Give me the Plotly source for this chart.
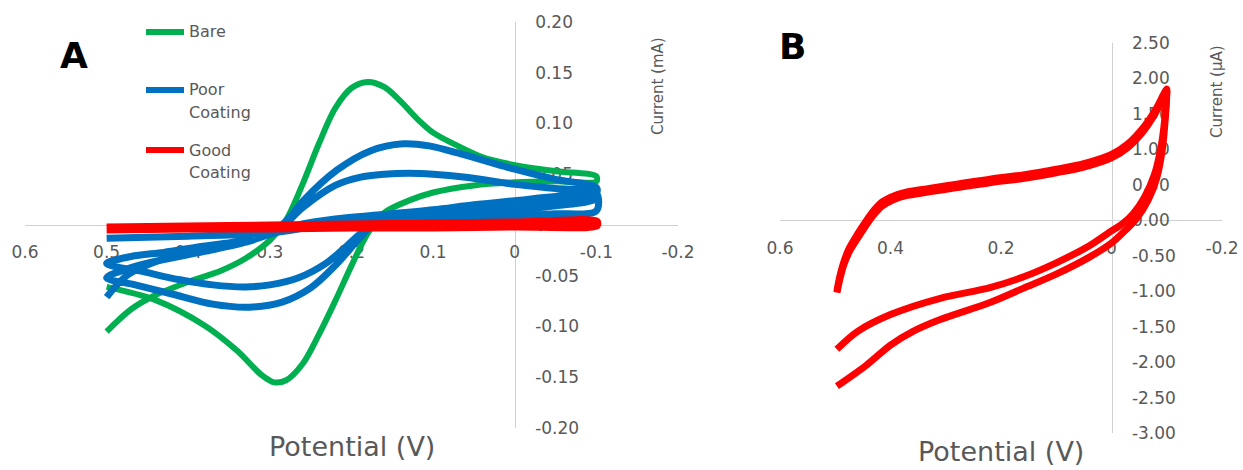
import plotly.graph_objects as go

W, H = 1243, 470

# ---------------- Panel A: cyclic voltammograms (V, mA) ----------------
bare_v = [0.5, 0.47, 0.44, 0.40, 0.36, 0.33, 0.30, 0.28, 0.26, 0.24, 0.22, 0.20,
          0.18, 0.16, 0.14, 0.12, 0.10, 0.07, 0.04, 0.0, -0.05, -0.1,
          -0.1, -0.05, 0.0, 0.05, 0.10, 0.13, 0.16, 0.18, 0.20, 0.22, 0.24,
          0.26, 0.28, 0.295, 0.31, 0.34, 0.38, 0.44, 0.5]
bare_i = [-0.105, -0.083, -0.069, -0.056, -0.045, -0.033, -0.015, 0.005, 0.040, 0.080, 0.115, 0.135,
          0.141, 0.136, 0.122, 0.105, 0.091, 0.078, 0.067, 0.059, 0.053, 0.048,
          0.043, 0.043, 0.042, 0.039, 0.032, 0.024, 0.012, -0.008, -0.040, -0.075, -0.108,
          -0.137, -0.153, -0.155, -0.148, -0.124, -0.099, -0.074, -0.061]

poor_v = [0.5, 0.474, 0.432, 0.392, 0.34, 0.3, 0.28, 0.259, 0.218, 0.177, 0.137, 0.105,
          0.07, 0.035, 0.0, -0.05, -0.1,
          -0.1, -0.05, 0.0, 0.05, 0.1, 0.14, 0.17, 0.19, 0.22, 0.25, 0.285, 0.325, 0.37,
          0.42, 0.465, 0.5,
          0.47, 0.43, 0.38, 0.33, 0.29, 0.26, 0.22, 0.19, 0.16, 0.13, 0.10, 0.06,
          0.0, -0.05, -0.1,
          -0.1, -0.05, 0.0, 0.05, 0.1, 0.15, 0.18, 0.205, 0.23, 0.265, 0.3, 0.33, 0.37,
          0.41, 0.455, 0.5,
          0.47, 0.43, 0.39, 0.33, 0.29, 0.26, 0.22, 0.165, 0.1, 0.05, 0.0, -0.05, -0.1,
          -0.1, -0.05, 0.0, 0.1, 0.2, 0.25, 0.3, 0.4, 0.5]
poor_i = [-0.071, -0.049, -0.034, -0.026, -0.018, -0.008, 0.004, 0.024, 0.054, 0.073, 0.080, 0.078,
          0.071, 0.063, 0.055, 0.045, 0.037,
          0.031, 0.025, 0.020, 0.016, 0.013, 0.009, 0.003, -0.013, -0.040, -0.062, -0.076, -0.081, -0.078,
          -0.068, -0.059, -0.052,
          -0.042, -0.034, -0.026, -0.017, -0.005, 0.017, 0.039, 0.047, 0.050, 0.051, 0.050, 0.047,
          0.040, 0.036, 0.032,
          0.026, 0.019, 0.015, 0.012, 0.010, 0.006, -0.003, -0.020, -0.037, -0.052, -0.059, -0.061, -0.059,
          -0.054, -0.046, -0.038,
          -0.031, -0.027, -0.022, -0.015, -0.007, 0.001, 0.006, 0.010, 0.015, 0.020, 0.024, 0.028, 0.031,
          0.014, 0.011, 0.009, 0.007, 0.004, -0.002, -0.008, -0.011, -0.013]

good_v = [0.5, 0.4, 0.3, 0.2, 0.1, 0.0, -0.1, -0.1, 0.0, 0.1, 0.2, 0.3, 0.4, 0.5]
good_i = [-0.003, -0.002, -0.001, 0.0, 0.001, 0.002, 0.003, 0.0, -0.001, -0.002, -0.002, -0.003, -0.003, -0.004]

# ---------------- Panel B: good coating, two scans (V, µA) ----------------
scan1_v = [0.497, 0.492, 0.485, 0.475, 0.46, 0.445, 0.43, 0.415, 0.395, 0.37, 0.33, 0.28, 0.22,
           0.16, 0.1, 0.05, 0.0, -0.03, -0.06, -0.08, -0.1,
           -0.1, -0.096, -0.09, -0.078, -0.06, -0.04, -0.02, 0.0, 0.04, 0.1, 0.16, 0.22,
           0.31, 0.4, 0.46, 0.497]
scan1_i = [-1.0, -0.8, -0.6, -0.4, -0.2, -0.02, 0.14, 0.26, 0.34, 0.40, 0.45, 0.51, 0.58,
           0.64, 0.72, 0.80, 0.93, 1.08, 1.33, 1.56, 1.85,
           1.80, 1.40, 1.05, 0.65, 0.33, 0.10, -0.05, -0.15, -0.36, -0.60, -0.80, -0.95,
           -1.10, -1.33, -1.57, -1.82]

scan2_v = [0.497, 0.492, 0.485, 0.475, 0.46, 0.445, 0.43, 0.415, 0.395, 0.37, 0.33, 0.28, 0.22,
           0.16, 0.1, 0.05, 0.0, -0.03, -0.06, -0.08, -0.1,
           -0.1, -0.097, -0.092, -0.082, -0.066, -0.045, -0.02, 0.0, 0.04, 0.1, 0.16, 0.22,
           0.31, 0.36, 0.40, 0.443, 0.497]
scan2_i = [-1.02, -0.84, -0.64, -0.45, -0.26, -0.08, 0.08, 0.20, 0.29, 0.35, 0.40, 0.46, 0.53,
           0.59, 0.67, 0.75, 0.88, 1.03, 1.28, 1.52, 1.82,
           1.78, 1.40, 1.00, 0.60, 0.28, 0.02, -0.18, -0.32, -0.52, -0.76, -0.96, -1.16,
           -1.40, -1.57, -1.76, -2.04, -2.34]

# ---------------- Tick labels ----------------
xticks_a = [0.6, 0.5, 0.4, 0.3, 0.2, 0.1, 0.0, -0.1, -0.2]
xticktext_a = ["0.6", "0.5", "0.4", "0.3", "0.2", "0.1", "0", "-0.1", "-0.2"]
yticks_a = [0.20, 0.15, 0.10, 0.05, 0.0, -0.05, -0.10, -0.15, -0.20]
yticktext_a = ["0.20", "0.15", "0.10", "0.05", "0.00", "-0.05", "-0.10", "-0.15", "-0.20"]

xticks_b = [0.6, 0.4, 0.2, 0.0, -0.2]
xticktext_b = ["0.6", "0.4", "0.2", "0", "-0.2"]
yticks_b = [2.5, 2.0, 1.5, 1.0, 0.5, 0.0, -0.5, -1.0, -1.5, -2.0, -2.5, -3.0]
yticktext_b = ["2.50", "2.00", "1.50", "1.00", "0.50", "0.00", "-0.50", "-1.00",
               "-1.50", "-2.00", "-2.50", "-3.00"]

series_names = ["Bare", "Poor Coating", "Good Coating"]
GREEN, BLUE, RED = "#00b050", "#0070c0", "#ff0000"
GREY_TXT, GREY_LINE = "#595959", "#d0d0d0"
FONT = "DejaVu Sans"


def fx(px):
    return px / W


def fy(py):
    return 1 - py / H


# plot-area boxes in pixels (left, right, top, bottom)
A_box = (25, 678, 22, 428)
B_box = (780, 1222, 43, 433)


def domains(box):
    l, r, t, b = box
    return [fx(l), fx(r)], [fy(b), fy(t)]


ax_dx, ax_dy = domains(A_box)
bx_dx, bx_dy = domains(B_box)

# where the axes cross (x = 0 V, y = 0 current) in paper coordinates
a_xcross = ax_dx[0] + (0.6 - 0.0) / 0.8 * (ax_dx[1] - ax_dx[0])
a_ycross = ax_dy[0] + (0.0 + 0.2) / 0.4 * (ax_dy[1] - ax_dy[0])
b_xcross = bx_dx[0] + (0.6 - 0.0) / 0.8 * (bx_dx[1] - bx_dx[0])
b_ycross = bx_dy[0] + (0.0 + 3.0) / 5.5 * (bx_dy[1] - bx_dy[0])

fig = go.Figure()
fig.add_trace(go.Scatter(x=bare_v, y=bare_i, mode="lines", name=series_names[0],
                         line=dict(color=GREEN, width=6, shape="spline", smoothing=0.9),
                         xaxis="x", yaxis="y", showlegend=False))
fig.add_trace(go.Scatter(x=poor_v, y=poor_i, mode="lines", name=series_names[1],
                         line=dict(color=BLUE, width=7, shape="spline", smoothing=0.9),
                         xaxis="x", yaxis="y", showlegend=False))
fig.add_trace(go.Scatter(x=good_v, y=good_i, mode="lines", name=series_names[2],
                         line=dict(color=RED, width=9, shape="spline", smoothing=0.8),
                         xaxis="x", yaxis="y", showlegend=False))
for sv, si in ((scan1_v, scan1_i), (scan2_v, scan2_i)):
    fig.add_trace(go.Scatter(x=sv, y=si, mode="lines", name=series_names[2],
                             line=dict(color=RED, width=7, shape="spline", smoothing=0.9),
                             xaxis="x2", yaxis="y2", showlegend=False))

tickfont = dict(family=FONT, size=17, color=GREY_TXT)
common_x = dict(showgrid=False, zeroline=False, showline=True, linecolor=GREY_LINE, linewidth=1,
                ticks="outside", ticklen=12, tickcolor="rgba(0,0,0,0)", tickfont=tickfont,
                anchor="free", layer="below traces", fixedrange=True, automargin=False)
common_y = dict(showgrid=False, zeroline=False, showline=True, linecolor=GREY_LINE, linewidth=1,
                ticks="outside", ticklen=16, tickcolor="rgba(0,0,0,0)", tickfont=tickfont,
                anchor="free", side="right", layer="below traces", fixedrange=True,
                automargin=False)

fig.update_layout(
    width=W, height=H, autosize=False,
    margin=dict(l=0, r=0, t=0, b=0, pad=0, autoexpand=False),
    paper_bgcolor="white", plot_bgcolor="white",
    xaxis=dict(domain=ax_dx, range=[0.6, -0.2], tickmode="array", tickvals=xticks_a,
               ticktext=xticktext_a, position=a_ycross, **common_x),
    yaxis=dict(domain=ax_dy, range=[-0.2, 0.2], tickmode="array", tickvals=yticks_a,
               ticktext=yticktext_a, position=a_xcross, **common_y),
    xaxis2=dict(domain=bx_dx, range=[0.6, -0.2], tickmode="array", tickvals=xticks_b,
                ticktext=xticktext_b, position=b_ycross, **common_x),
    yaxis2=dict(domain=bx_dy, range=[-3.0, 2.5], tickmode="array", tickvals=yticks_b,
                ticktext=yticktext_b, position=b_xcross, **common_y),
)

annotations = []


def text(px, py, s, size, color=GREY_TXT, xanchor="center", angle=0, bold=False):
    annotations.append(dict(
        x=fx(px), y=fy(py), xref="paper", yref="paper", text=f"<b>{s}</b>" if bold else s,
        showarrow=False, xanchor=xanchor, yanchor="middle", textangle=angle,
        font=dict(family=FONT, size=size, color=color)))


# axis titles
text(352, 446, "Potential (V)", 27)
text(1001, 451, "Potential (V)", 27)
text(658, 86, "Current (mA)", 15, angle=-90)
text(1217, 92, "Current (µA)", 15, angle=-90)

# panel letters
text(74, 55, "A", 36, color="black", bold=True)
text(792, 46, "B", 36, color="black", bold=True)

# legend for panel A
legend_rows = [(32, GREEN, ["Bare"]),
               (90, BLUE, ["Poor", "Coating"]),
               (150, RED, ["Good", "Coating"])]
shapes = []
for y0, col, lines in legend_rows:
    shapes.append(dict(type="line", xref="paper", yref="paper",
                       x0=fx(146), x1=fx(184), y0=fy(y0), y1=fy(y0),
                       line=dict(color=col, width=6)))
    for k, ln in enumerate(lines):
        text(187, y0 + 23 * k, ln, 16, xanchor="left")

fig.update_layout(annotations=annotations, shapes=shapes)

fig.write_html("out.html")
